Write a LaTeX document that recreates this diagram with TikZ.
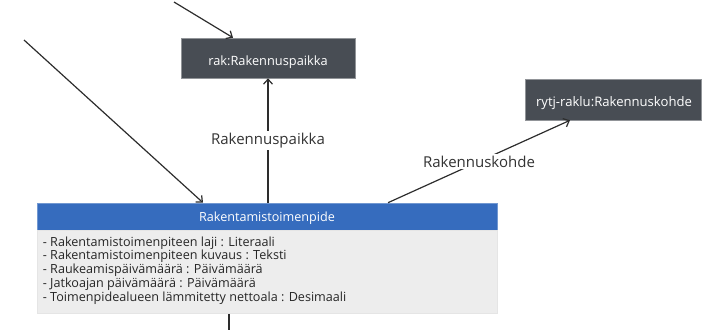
\documentclass[tikz,border=0pt]{standalone}
\usepackage{fontspec}
\setmainfont{Open Sans}
\usetikzlibrary{arrows.meta}
\definecolor{darkbox}{RGB}{72,77,84}
\definecolor{hdrblue}{RGB}{54,108,190}
\definecolor{bodygrey}{RGB}{237,237,237}
\definecolor{linec}{RGB}{45,45,45}
\tikzset{
  x=1pt, y=1pt,
  darknode/.style={fill=darkbox, draw=darkbox!60!white, line width=0.6pt, inner sep=0pt},
  darktext/.style={text=white, inner sep=0pt},
  conn/.style={draw=linec, line width=1.2pt},
  arr/.style={conn, -{Straight Barb[length=5pt,width=9pt,line width=1.2pt]}},
  lbl/.style={fill=white, text=black!80, font=\fontsize{15}{17}\selectfont, inner sep=2pt}
}
\begin{document}
\begin{tikzpicture}
\useasboundingbox (0,0) rectangle (702,-330);
% boxes
\node[darknode, minimum width=174pt, minimum height=40pt] (rak) at (268,-58) {};
\node[darktext, font=\fontsize{12.8}{14}\selectfont] (raktxt) at (268,-62) {rak:Rakennuspaikka};
\node[darknode, minimum width=176pt, minimum height=41pt] (rytj) at (613,-99.5) {};
\node[darktext, font=\fontsize{13.1}{15}\selectfont] (rytjtxt) at (614,-103) {rytj-raklu:Rakennuskohde};
\node[fill=hdrblue, draw=hdrblue!70!white, line width=0.6pt, minimum width=460pt, minimum height=27pt, inner sep=0pt] (hdr) at (267,-216.5) {};
\node[darktext, font=\fontsize{12.6}{14}\selectfont] (hdrtxt) at (267,-218.5) {Rakentamistoimenpide};
\node[fill=bodygrey, draw=white!90!black, line width=0.6pt, minimum width=460pt, minimum height=83pt, inner sep=0pt, anchor=north] (body) at (hdr.south) {};
\node[anchor=north west, align=left, inner sep=0pt, text=black!85, font=\fontsize{12.6}{13.8}\selectfont] (attrs) at ([xshift=6pt,yshift=-6pt]body.north west) {%
- Rakentamistoimenpiteen laji : Literaali\\
- Rakentamistoimenpiteen kuvaus : Teksti\\
- Raukeamispäivämäärä : Päivämäärä\\
- Jatkoajan päivämäärä : Päivämäärä\\
- Toimenpidealueen lämmitetty nettoala : Desimaali};
% free ends
\coordinate (topin) at (174,-2);
\coordinate (leftin) at (24,-40);
\coordinate (botout) at (229,-330);
% connectors
\draw[arr] (topin) -- (rak.north west -| 233,0);
\draw[arr] (leftin) -- (hdr.north -| 203,0);
\draw[arr] (hdr.north -| 268,0) -- node[lbl, pos=0.5] (l1) {Rakennuspaikka} (rak.south -| 268,0);
\draw[arr] (hdr.north -| 388,0) -- node[lbl, pos=0.5] (l2) {Rakennuskohde} (rytj.south -| 570,0);
\draw[conn] (body.south -| 229,0) -- (botout);
\end{tikzpicture}
\end{document}
